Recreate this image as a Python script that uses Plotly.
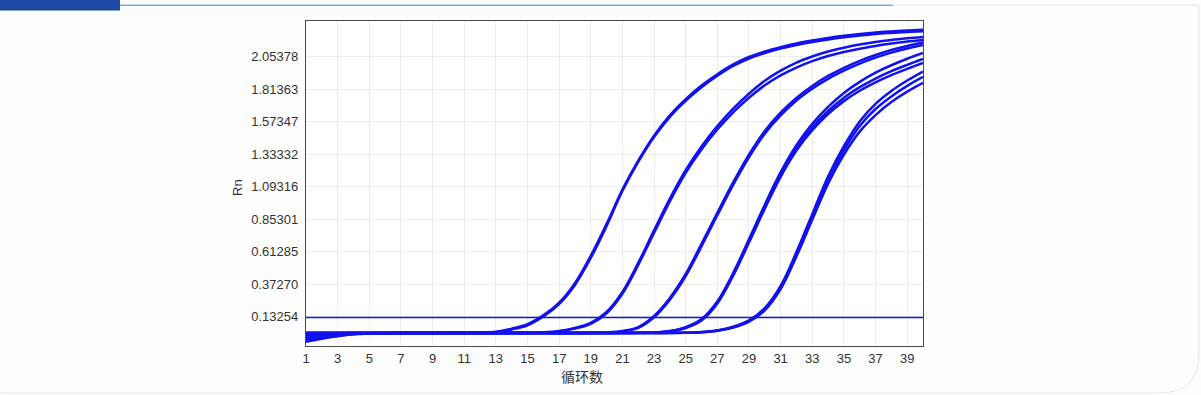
import plotly.graph_objects as go

# ---------------- data ----------------
cycles = [1, 2, 3, 4, 5, 6, 7, 8, 9, 10, 11, 12, 13, 14, 15, 16, 17, 18, 19, 20,
          21, 22, 23, 24, 25, 26, 27, 28, 29, 30, 31, 32, 33, 34, 35, 36, 37, 38, 39, 40]

rn_A1 = [0.008, 0.011, 0.012, 0.012, 0.012, 0.012, 0.012, 0.012, 0.012, 0.012, 0.013, 0.014,
         0.017, 0.038, 0.069, 0.134, 0.226, 0.367, 0.566, 0.803, 1.061, 1.276, 1.460, 1.609,
         1.727, 1.827, 1.912, 1.985, 2.040, 2.081, 2.114, 2.140, 2.162, 2.181, 2.197, 2.210,
         2.221, 2.229, 2.236, 2.241]
rn_A2 = [-0.030, -0.012, 0.000, 0.007, 0.011, 0.012, 0.012, 0.012, 0.012, 0.013, 0.014, 0.016,
         0.021, 0.044, 0.077, 0.142, 0.236, 0.380, 0.582, 0.818, 1.072, 1.285, 1.470, 1.620,
         1.740, 1.840, 1.924, 1.996, 2.051, 2.092, 2.124, 2.151, 2.173, 2.192, 2.208, 2.221,
         2.232, 2.240, 2.247, 2.252]
rn_B1 = [0.002, 0.008, 0.011, 0.012, 0.012, 0.012, 0.012, 0.012, 0.012, 0.012, 0.012, 0.012,
         0.012, 0.013, 0.014, 0.017, 0.027, 0.049, 0.086, 0.167, 0.315, 0.530, 0.770, 1.005,
         1.215, 1.390, 1.540, 1.670, 1.780, 1.875, 1.950, 2.010, 2.055, 2.092, 2.120, 2.143,
         2.162, 2.177, 2.189, 2.199]
rn_B2 = [-0.046, -0.025, -0.008, 0.004, 0.010, 0.011, 0.012, 0.012, 0.012, 0.012, 0.012, 0.012,
         0.012, 0.013, 0.013, 0.015, 0.024, 0.045, 0.080, 0.158, 0.302, 0.515, 0.752, 0.985,
         1.195, 1.368, 1.515, 1.642, 1.750, 1.842, 1.915, 1.973, 2.020, 2.058, 2.088, 2.112,
         2.132, 2.150, 2.165, 2.177]
rn_C1 = [-0.012, -0.002, 0.006, 0.010, 0.012, 0.012, 0.012, 0.012, 0.012, 0.012, 0.012, 0.012,
         0.012, 0.012, 0.012, 0.012, 0.012, 0.012, 0.013, 0.016, 0.027, 0.056, 0.138, 0.271,
         0.448, 0.670, 0.900, 1.125, 1.330, 1.505, 1.640, 1.749, 1.837, 1.911, 1.970, 2.022,
         2.066, 2.103, 2.133, 2.158]
rn_C2 = [0.010, 0.012, 0.012, 0.012, 0.012, 0.012, 0.012, 0.012, 0.012, 0.012, 0.012, 0.012,
         0.012, 0.012, 0.012, 0.012, 0.012, 0.012, 0.013, 0.015, 0.024, 0.050, 0.128, 0.258,
         0.432, 0.652, 0.882, 1.106, 1.310, 1.485, 1.620, 1.730, 1.817, 1.890, 1.950, 2.002,
         2.046, 2.083, 2.114, 2.140]
rn_D1 = [-0.052, -0.030, -0.012, 0.002, 0.009, 0.011, 0.012, 0.012, 0.012, 0.012, 0.012, 0.012,
         0.012, 0.012, 0.012, 0.012, 0.012, 0.012, 0.012, 0.012, 0.013, 0.014, 0.016, 0.027,
         0.055, 0.115, 0.245, 0.455, 0.705, 0.960, 1.200, 1.400, 1.557, 1.682, 1.785, 1.867,
         1.935, 1.990, 2.038, 2.081]
rn_D2 = [-0.020, -0.006, 0.004, 0.009, 0.011, 0.012, 0.012, 0.012, 0.012, 0.012, 0.012, 0.012,
         0.012, 0.012, 0.012, 0.012, 0.012, 0.012, 0.012, 0.012, 0.013, 0.013, 0.015, 0.025,
         0.052, 0.110, 0.237, 0.444, 0.690, 0.943, 1.181, 1.378, 1.530, 1.652, 1.750, 1.828,
         1.892, 1.946, 1.993, 2.037]
rn_D3 = [0.005, 0.010, 0.012, 0.012, 0.012, 0.012, 0.012, 0.012, 0.012, 0.012, 0.012, 0.012,
         0.012, 0.012, 0.012, 0.012, 0.012, 0.012, 0.012, 0.012, 0.012, 0.013, 0.014, 0.023,
         0.049, 0.104, 0.230, 0.435, 0.680, 0.930, 1.166, 1.360, 1.510, 1.630, 1.725, 1.802,
         1.864, 1.917, 1.963, 2.007]
rn_E1 = [-0.038, -0.018, -0.004, 0.005, 0.010, 0.011, 0.012, 0.012, 0.012, 0.012, 0.012, 0.012,
         0.012, 0.012, 0.012, 0.012, 0.012, 0.012, 0.012, 0.012, 0.012, 0.012, 0.012, 0.013,
         0.014, 0.019, 0.031, 0.058, 0.105, 0.196, 0.360, 0.610, 0.890, 1.168, 1.392, 1.575,
         1.705, 1.800, 1.877, 1.944]
rn_E2 = [-0.005, 0.004, 0.009, 0.011, 0.012, 0.012, 0.012, 0.012, 0.012, 0.012, 0.012, 0.012,
         0.012, 0.012, 0.012, 0.012, 0.012, 0.012, 0.012, 0.012, 0.012, 0.012, 0.012, 0.012,
         0.013, 0.018, 0.030, 0.055, 0.100, 0.188, 0.348, 0.595, 0.869, 1.143, 1.364, 1.542,
         1.667, 1.760, 1.838, 1.904]
rn_E3 = [0.016, 0.015, 0.014, 0.013, 0.012, 0.012, 0.012, 0.012, 0.012, 0.012, 0.012, 0.012,
         0.012, 0.012, 0.012, 0.012, 0.012, 0.012, 0.012, 0.012, 0.012, 0.012, 0.012, 0.012,
         0.013, 0.017, 0.028, 0.052, 0.095, 0.180, 0.336, 0.578, 0.848, 1.115, 1.330, 1.500,
         1.622, 1.718, 1.795, 1.860]

threshold_x = [1, 40]
threshold_y = [0.126, 0.126]

x_tickvals = [1, 3, 5, 7, 9, 11, 13, 15, 17, 19, 21, 23, 25, 27, 29, 31, 33, 35, 37, 39]
y_tickvals = [0.13254, 0.37270, 0.61285, 0.85301, 1.09316, 1.33332, 1.57347, 1.81363, 2.05378]
y_ticktext = ["0.13254", "0.37270", "0.61285", "0.85301", "1.09316",
              "1.33332", "1.57347", "1.81363", "2.05378"]

x_title = "循环数"
y_title = "Rn"

# ---------------- figure ----------------
W, H = 1201, 395
L, R, T, B = 306, 923, 21, 346   # plot area in pixels


def px(x):
    return (x - L) / (R - L)


def py(y):
    return (B - y) / (B - T)


CURVE_COLOR = "#1212ee"
fig = go.Figure()

curves = [rn_A1, rn_A2, rn_B1, rn_B2, rn_C1, rn_C2, rn_D1, rn_D2, rn_D3, rn_E1, rn_E2, rn_E3]
for c in curves:
    fig.add_trace(go.Scatter(x=cycles, y=c, mode="lines",
                             line=dict(color=CURVE_COLOR, width=2.5, shape="spline", smoothing=1.0),
                             hoverinfo="skip", showlegend=False))

fig.add_trace(go.Scatter(x=threshold_x, y=threshold_y, mode="lines",
                         line=dict(color=CURVE_COLOR, width=1.6),
                         hoverinfo="skip", showlegend=False))

tickfont = dict(family="Liberation Sans, Arial, sans-serif", size=13, color="#333333")

fig.update_layout(
    width=W, height=H, autosize=False,
    margin=dict(l=L, r=W - R, t=T, b=H - B, pad=0),
    paper_bgcolor="#fdfdfd",
    plot_bgcolor="#ffffff",
    showlegend=False,
    xaxis=dict(range=[1, 40], tickmode="array", tickvals=x_tickvals,
               showgrid=True, gridcolor="#ececec", gridwidth=1,
               showline=True, linecolor="#4a4a4a", linewidth=1.3, mirror=True,
               ticks="", zeroline=False, tickfont=tickfont, ticklabelstandoff=0),
    yaxis=dict(range=[-0.084, 2.317], tickmode="array", tickvals=y_tickvals, ticktext=y_ticktext,
               showgrid=True, gridcolor="#ececec", gridwidth=1,
               showline=True, linecolor="#4a4a4a", linewidth=1.3, mirror=True,
               ticks="", zeroline=False, tickfont=tickfont, ticklabelstandoff=4),
    annotations=[
        dict(text=y_title, x=px(237), y=py(188), xref="paper", yref="paper",
             xanchor="center", yanchor="middle",
             showarrow=False, textangle=-90,
             font=dict(family="Liberation Sans, Arial, sans-serif", size=13, color="#333333")),
        dict(text=x_title, x=px(582), y=py(376), xref="paper", yref="paper",
             xanchor="center", yanchor="middle",
             showarrow=False,
             font=dict(family="Noto Sans CJK SC, sans-serif", size=14, color="#333333")),
    ],
    shapes=[
        # page panel border with rounded bottom-right corner
        dict(type="path", xref="paper", yref="paper", layer="above",
             path=(f"M {px(0.5)},{py(5.3)} L {px(1199)},{py(5.3)} L {px(1199)},{py(353)} "
                   f"Q {px(1199)},{py(393)} {px(1159)},{py(393)} L {px(0.5)},{py(393)}"),
             line=dict(color="#e6e6e6", width=1)),
        # light blue header line
        dict(type="line", xref="paper", yref="paper",
             x0=px(120), x1=px(893), y0=py(5.3), y1=py(5.3),
             line=dict(color="#7aaee8", width=1.5)),
        # dark blue header tab
        dict(type="rect", xref="paper", yref="paper",
             x0=px(0), x1=px(120), y0=py(10.5), y1=py(0),
             fillcolor="#1b4aa0", line=dict(width=0)),
    ],
)

fig.write_html("out.html", config={"displayModeBar": False})
